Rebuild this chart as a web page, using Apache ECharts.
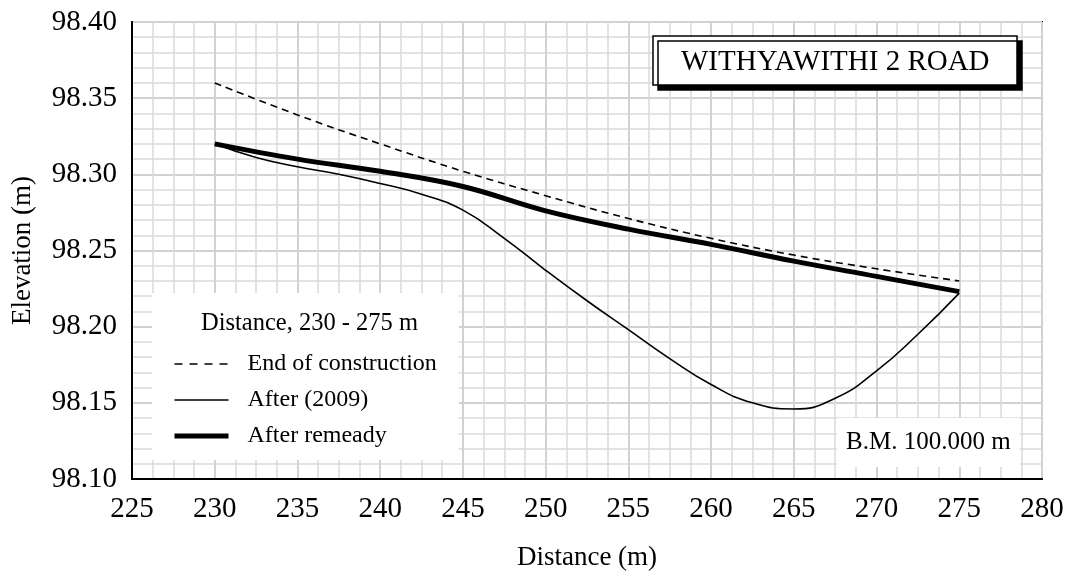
<!DOCTYPE html>
<html>
<head>
<meta charset="utf-8">
<script src="https://cdn.jsdelivr.net/npm/echarts@6/dist/echarts.min.js"></script>
<style>
html,body{margin:0;padding:0;background:#fff;}
#chart{width:1076px;height:576px;}
</style>
</head>
<body>
<div id="chart"></div>
<script>
// Distances (m) at which the profiles were read
const distances = [230, 235, 240, 245, 250, 255, 260, 265, 270, 275];
const endOfConstruction = [98.360, 98.339, 98.320, 98.302, 98.286, 98.271, 98.258, 98.247, 98.238, 98.230];
const afterRemedy = [98.320, 98.310, 98.302, 98.292, 98.276, 98.264, 98.254, 98.243, 98.233, 98.223];
// After (2009) read more densely off the curve
const distancesAfter2009 = [230, 232.5, 235, 237.5, 240, 242.5, 245, 247.5, 250, 252.5, 255, 257.5, 260, 262.5, 265, 267.5, 270, 272.5, 275];
const after2009 = [98.320, 98.311, 98.305, 98.300, 98.294, 98.287, 98.2765, 98.258, 98.237, 98.217, 98.198, 98.179, 98.162, 98.150, 98.146, 98.153, 98.171, 98.195, 98.222];
const seriesNames = ['End of construction', 'After (2009)', 'After remeady'];
const chartTitle = 'WITHYAWITHI 2 ROAD';
const legendTitle = 'Distance, 230 - 275 m';
const benchmark = 'B.M. 100.000 m';

const pairs = (xs, ys) => xs.map((d, i) => [d, ys[i]]);
const FONT = '"Liberation Serif", "Times New Roman", serif';

const chart = echarts.init(document.getElementById('chart'), null, {renderer: 'canvas'});
chart.setOption({
  backgroundColor: '#fff',
  animation: false,
  color: ['#000', '#000', '#000'],
  textStyle: {fontFamily: FONT, color: '#000'},
  title: [
    {
      text: chartTitle, left: 653, top: 36,
      padding: [12, 28, 8, 28],
      backgroundColor: '#fff', borderColor: '#000', borderWidth: 1.5,
      shadowColor: '#000', shadowBlur: 0, shadowOffsetX: 5, shadowOffsetY: 5,
      textStyle: {fontFamily: FONT, fontSize: 29, fontWeight: 'normal', color: '#000'},
      z: 10
    },
    {
      text: legendTitle, left: 201, top: 311, padding: 0,
      textStyle: {fontFamily: FONT, fontSize: 24.5, fontWeight: 'normal', color: '#000'},
      z: 20
    },
    {
      text: benchmark, left: 837, top: 418,
      padding: [12, 9, 12, 9],
      backgroundColor: '#fff',
      textStyle: {fontFamily: FONT, fontSize: 25, fontWeight: 'normal', color: '#000'},
      z: 10
    }
  ],
  legend: {
    orient: 'vertical', left: 152, top: 293,
    padding: [59, 22, 12, 20],
    backgroundColor: '#fff',
    itemWidth: 54, itemHeight: 14, itemGap: 12,
    itemStyle: {opacity: 0},
    lineStyle: {width: 'inherit', type: 'inherit'},
    data: [
      {name: seriesNames[0], lineStyle: {type: [8, 7], width: 1.6}},
      {name: seriesNames[1]},
      {name: seriesNames[2]}
    ],
    textStyle: {fontFamily: FONT, fontSize: 24, color: '#000', padding: [0, 0, 0, 14]},
    z: 15
  },
  grid: {
    left: 132, top: 22, right: 34, bottom: 96,
    show: true, borderColor: '#000', borderWidth: 2, backgroundColor: 'transparent'
  },
  xAxis: {
    type: 'value', min: 225, max: 280, interval: 5,
    name: 'Distance (m)', nameLocation: 'middle', nameGap: 65,
    nameTextStyle: {fontFamily: FONT, fontSize: 27, color: '#000'},
    axisLine: {show: true, lineStyle: {color: '#000', width: 2}},
    axisTick: {show: false},
    axisLabel: {fontFamily: FONT, fontSize: 29, color: '#000', margin: 16},
    splitLine: {show: true, lineStyle: {color: '#d2d2d2', width: 2}},
    minorTick: {show: false, splitNumber: 4},
    minorSplitLine: {show: true, lineStyle: {color: '#dadada', width: 1.5}}
  },
  yAxis: {
    type: 'value', min: 98.10, max: 98.40, interval: 0.05,
    name: 'Elevation (m)', nameLocation: 'middle', nameGap: 96,
    nameTextStyle: {fontFamily: FONT, fontSize: 27, color: '#000'},
    axisLine: {show: true, lineStyle: {color: '#000', width: 2}},
    axisTick: {show: false},
    axisLabel: {fontFamily: FONT, fontSize: 29, color: '#000', margin: 15,
      formatter: v => v.toFixed(2)},
    splitLine: {show: true, lineStyle: {color: '#d2d2d2', width: 2}},
    minorTick: {show: false, splitNumber: 5},
    minorSplitLine: {show: true, lineStyle: {color: '#dadada', width: 1.5}}
  },
  series: [
    {
      name: seriesNames[0], type: 'line', data: pairs(distances, endOfConstruction),
      smooth: 0.4, symbol: 'none', itemStyle: {color: '#000'},
      lineStyle: {color: '#000', width: 1.6, type: [7, 5]}, z: 3
    },
    {
      name: seriesNames[1], type: 'line', data: pairs(distancesAfter2009, after2009),
      smooth: 0.5, symbol: 'none', itemStyle: {color: '#000'},
      lineStyle: {color: '#000', width: 1.6}, z: 3
    },
    {
      name: seriesNames[2], type: 'line', data: pairs(distances, afterRemedy),
      smooth: 0.4, symbol: 'none', itemStyle: {color: '#000'},
      lineStyle: {color: '#000', width: 5}, z: 4
    }
  ]
});
</script>
</body>
</html>
